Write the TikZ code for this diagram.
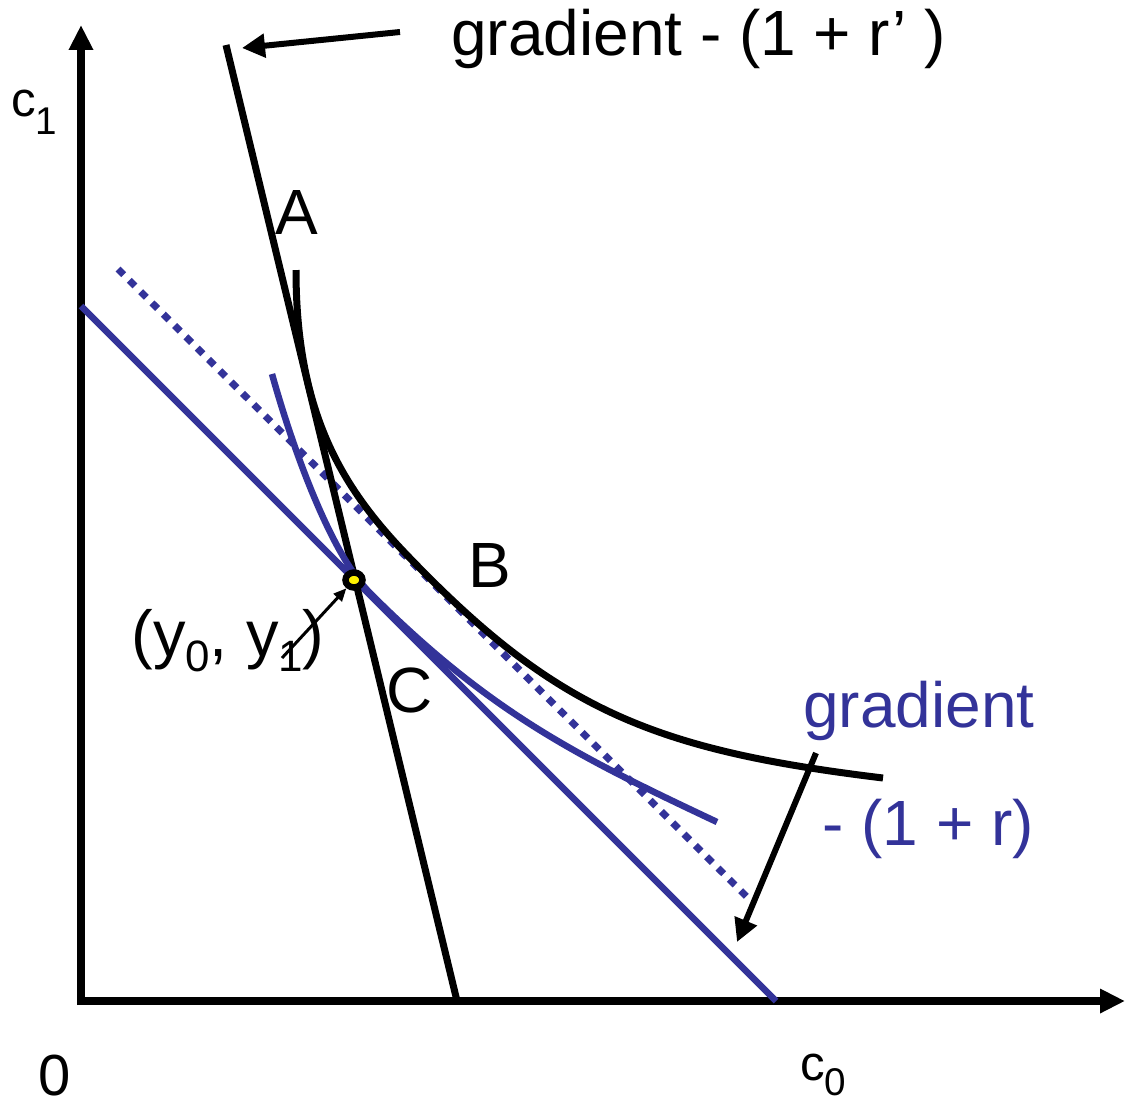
\documentclass[tikz,border=0pt]{standalone}
\usepackage{fontspec}
\setmainfont{Liberation Sans}
\usetikzlibrary{arrows.meta,shapes.geometric}
\definecolor{cblue}{RGB}{51,51,153}
\newcommand{\mysub}[3]{\raisebox{#1}{\fontsize{#2}{#2}\selectfont #3}}
\begin{document}
\begin{tikzpicture}[x=0.02cm,y=-0.02cm,
  axisline/.style={line width=0.16cm,-{Triangle[length=0.5cm,width=0.46cm]}},
  blackline/.style={line width=0.14cm},
  blueline/.style={line width=0.13cm,cblue},
  dotline/.style={line width=0.14cm,cblue,dash pattern=on 0.16cm off 0.16cm},
  bigarrow/.style={line width=0.12cm,-{Triangle[length=0.46cm,width=0.46cm]}},
  smallarrow/.style={line width=0.06cm,-{Triangle[length=0.26cm,width=0.22cm]}},
  lab/.style={inner sep=0pt,font=\fontsize{36.4}{44}\selectfont},
  bluelab/.style={lab,text=cblue},
  axlab/.style={inner sep=0pt,font=\fontsize{28}{34}\selectfont}]
\useasboundingbox (0,0) rectangle (1125,1109);
% coordinates
\coordinate (ytop) at (81,25);
\coordinate (xend) at (1125,1001);
\coordinate (steepTop) at (226,45);
\coordinate (steepBot) at (457,1001);
\coordinate (blueTop) at (81,306);
\coordinate (blueBot) at (776,1001);
\coordinate (dotTop) at (118,269);
\coordinate (dotBot) at (752,902);
\coordinate (topArrTail) at (400,32);
\coordinate (topArrTip) at (242,48);
\coordinate (rArrTail) at (816,753);
\coordinate (rArrTip) at (737,942);
\coordinate (smallTail) at (282,658);
% axes
\draw[axisline] (81,1005) -- (ytop);
\draw[axisline] (77,1001) -- (xend);
% budget lines
\draw[dotline] (dotTop) -- (dotBot);
\draw[blueline] (blueTop) -- (blueBot);
\draw[blackline] (steepTop) -- (steepBot);
% indifference curves
\draw[blueline] (272,374) .. controls (292,446) and (330,553) .. (370,593)
  .. controls (490,713) and (577,756) .. (717,822);
\draw[blackline] (296,270) .. controls (296,410) and (340,485) .. (405,553)
  .. controls (555,710) and (653,750) .. (883,778);
% endowment point
\node[ellipse,draw,line width=0.13cm,fill=yellow,minimum width=0.34cm,minimum height=0.30cm,inner sep=0pt] (pt) at (354,580) {};
% arrows
\draw[bigarrow] (topArrTail) -- (topArrTip);
\draw[bigarrow] (rArrTail) -- (rArrTip);
\draw[smallarrow] (smallTail) -- (pt);
% labels
\node[lab,anchor=base west] (tgrad) at (451,55) {gradient - (1 + r’ )};
\node[lab] (A) at (297,212) {A};
\node[lab] (B) at (490,565) {B};
\node[lab] (C) at (410,690) {C};
\node[bluelab,anchor=base west] (bgrad) at (803,727) {gradient};
\node[bluelab,anchor=base west] (brate) at (822,845) {- (1 + r)};
\node[lab,anchor=base west,font=\fontsize{37}{44}\selectfont] (endw) at (131,656) {(y\mysub{-9pt}{25}{0}, y\mysub{-9pt}{25}{1})};
\node[axlab,anchor=base west] (c1) at (11,116) {c\mysub{-10.5pt}{22}{1}};
\node[axlab,anchor=base west] (c0) at (800,1080) {c\mysub{-9pt}{22}{0}};
\node[lab,anchor=base west,font=\fontsize{33}{40}\selectfont] (zero) at (38,1095) {0};
\end{tikzpicture}
\end{document}
